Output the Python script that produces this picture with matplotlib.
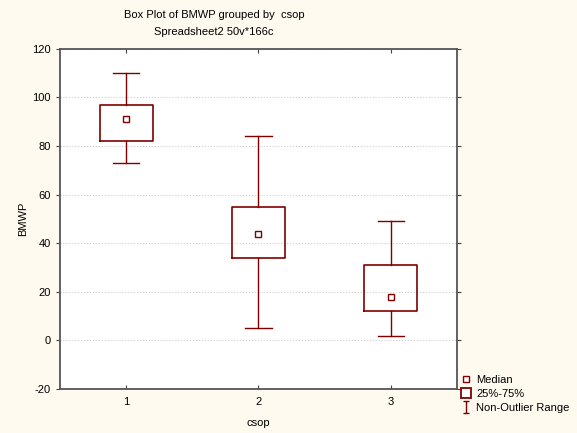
import matplotlib.pyplot as plt
from matplotlib.lines import Line2D
from matplotlib.path import Path

plt.rcParams['font.family'] = ['Liberation Sans', 'DejaVu Sans']
plt.rcParams['axes.unicode_minus'] = False

# data
groups = [1, 2, 3]
whisker_low = [73, 5, 2]
q1 = [82, 34, 12]
median = [91, 44, 18]
q3 = [97, 55, 31]
whisker_high = [110, 84, 49]
yticks = [-20, 0, 20, 40, 60, 80, 100, 120]

dark_red = '#800000'
bg = '#fffaf0'

fig = plt.figure(figsize=(5.77, 4.33), dpi=100, facecolor=bg)
ax = fig.add_axes([0.104, 0.1016, 0.688, 0.7855])
ax.set_facecolor('white')

stats = []
for g, lo, a, m, b, hi in zip(groups, whisker_low, q1, median, q3, whisker_high):
    stats.append({'med': m, 'q1': a, 'q3': b, 'whislo': lo, 'whishi': hi,
                  'fliers': [], 'label': str(g)})

ax.bxp(stats, positions=groups, widths=0.4, showfliers=False,
       boxprops=dict(color=dark_red, linewidth=1.2),
       whiskerprops=dict(color=dark_red, linewidth=1.0),
       capprops=dict(color=dark_red, linewidth=1.0),
       medianprops=dict(linestyle='none'),
       capwidths=0.2)
ax.plot(groups, median, linestyle='none', marker='s', markersize=5,
        markerfacecolor='white', markeredgecolor=dark_red, markeredgewidth=1.0)

ax.set_xlim(0.5, 3.5)
ax.set_ylim(-20, 120)
ax.set_yticks(yticks)
ax.set_xticks(groups)
ax.set_xticklabels([str(g) for g in groups])
ax.yaxis.grid(True, linestyle=':', color='#cccccc', linewidth=0.8)
ax.set_axisbelow(True)
ax.tick_params(axis='both', labelsize=8, color='#444444', length=3)
ax.tick_params(axis='x', direction='in', top=True, pad=6)
ax.tick_params(axis='y', direction='out', right=True)
for s in ax.spines.values():
    s.set_color('#555555')
    s.set_linewidth(1.3)

ax.set_xlabel('csop', fontsize=8, labelpad=8)
ax.set_ylabel('BMWP', fontsize=8, labelpad=3)
fig.text(214 / 577, 1 - 15 / 433, 'Box Plot of BMWP grouped by  csop',
         fontsize=8, ha='center', va='center')
fig.text(214 / 577, 1 - 32 / 433, 'Spreadsheet2 50v*166c',
         fontsize=8, ha='center', va='center')

ibeam = Path([(-0.5, 1), (0.5, 1), (0, 1), (0, -1), (-0.5, -1), (0.5, -1)],
             [Path.MOVETO, Path.LINETO, Path.MOVETO, Path.LINETO, Path.MOVETO, Path.LINETO])
handles = [
    Line2D([], [], linestyle='none', marker='s', markersize=5,
           markerfacecolor='white', markeredgecolor=dark_red),
    Line2D([], [], linestyle='none', marker='s', markersize=7,
           markerfacecolor='white', markeredgecolor=dark_red, markeredgewidth=1.3),
    Line2D([], [], linestyle='none', marker=ibeam, markersize=9,
           markeredgecolor=dark_red, markeredgewidth=1.0),
]
fig.legend(handles, ['Median', '25%-75%', 'Non-Outlier Range'],
           loc='lower left', bbox_to_anchor=(0.79, 0.037), frameon=False,
           fontsize=8, handlelength=1.0, handletextpad=0.45,
           labelspacing=0.35, borderaxespad=0)

fig.savefig('out.png', dpi=100, facecolor=bg)
